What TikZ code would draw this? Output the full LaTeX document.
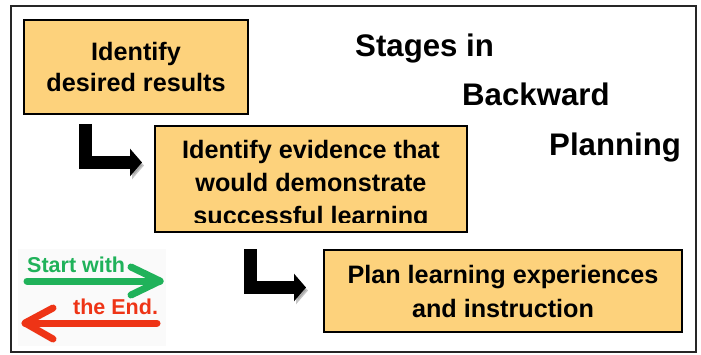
\documentclass[tikz,border=0pt]{standalone}
\usepackage{fontspec}
\setmainfont{Liberation Sans}
\usetikzlibrary{arrows.meta}
\definecolor{boxfill}{RGB}{253,210,124}
\definecolor{sgreen}{RGB}{32,178,90}
\definecolor{sred}{RGB}{238,52,22}
\begin{document}
\begin{tikzpicture}[x=1pt,y=1pt,
  stagebox/.style={draw=black, line width=2.5pt, fill=boxfill, inner sep=0pt},
  boxtext/.style={font=\fontsize{25.2}{31}\selectfont\bfseries, align=center, inner sep=0pt},
  titletext/.style={font=\fontsize{31.2}{36}\selectfont\bfseries, anchor=base west, inner sep=0pt},
  badgetext/.style={font=\fontsize{21.5}{26}\selectfont\bfseries, anchor=base west, inner sep=0pt},
  elbow/.style={line width=13pt, line join=miter, -{Triangle[length=12pt,width=27pt]},
    preaction={draw=black!45, opacity=0.5, transform canvas={shift={(2pt,-3pt)}}}},
  badgearrow/.style={line width=7pt, line cap=round, line join=round}
]
\useasboundingbox (0,0) rectangle (701,354);
% outer frame
\draw[draw=black!85, line width=1.5pt] (11,348) rectangle (696,2);

% stage boxes
\node[stagebox, boxtext, minimum width=224pt, minimum height=94pt] (box1) at (136,287)
  {Identify\\desired results};
\node[stagebox, minimum width=312pt, minimum height=106pt] (box2) at (311,175) {};
\begin{scope}
  \clip (box2.north west) rectangle (468,132);
  \node[boxtext, text depth=0pt, font=\fontsize{25.2}{33}\selectfont\bfseries] (t2) at (311,171.5)
    {Identify evidence that\\would demonstrate\\successful learning};
\end{scope}
\node[stagebox, minimum width=358pt, minimum height=82pt, boxtext,
  font=\fontsize{25.2}{34}\selectfont\bfseries] (box3) at (503,63)
  {Plan learning experiences\\and instruction};

% title
\node[titletext] (title1) at (355,297) {Stages in};
\node[titletext] (title2) at (462,248) {Backward};
\node[titletext] (title3) at (549,199) {Planning};

% elbow connectors
\coordinate (a1s) at (85,230);
\coordinate (a1e) at (142,191.5);
\coordinate (a2s) at (250,105);
\coordinate (a2e) at (306,66.5);
\draw[elbow] (a1s) |- (a1e);
\draw[elbow] (a2s) |- (a2e);

% start with the end badge
\fill[black!2] (18,105) rectangle (166,8);
\node[badgetext, text=sgreen] (start) at (27,82) {Start with};
\coordinate (g1) at (27,73);
\coordinate (g2) at (160,73);
\coordinate (g3) at (131,87);
\coordinate (g4) at (131,59);
\draw[badgearrow, sgreen] (g1) -- (g2);
\draw[badgearrow, sgreen] (g3) -- (g2) -- (g4);
\node[badgetext, text=sred] (theend) at (73,40) {the End.};
\coordinate (r1) at (157,31);
\coordinate (r2) at (25,31);
\coordinate (r3) at (53,46);
\coordinate (r4) at (53,15);
\draw[badgearrow, sred] (r1) -- (r2);
\draw[badgearrow, sred] (r3) -- (r2) -- (r4);
\end{tikzpicture}
\end{document}
